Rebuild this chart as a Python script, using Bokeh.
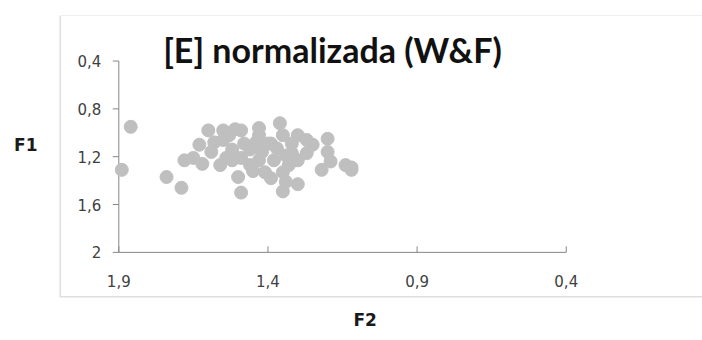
from bokeh.plotting import figure
from bokeh.models import Range1d, FixedTicker, BoxAnnotation, Label, Title
from bokeh.core.properties import value
from bokeh.embed import file_html
from bokeh.resources import INLINE

# F2 (x axis, reversed) and F1 (y axis, reversed)
f2 = [1.86, 1.89, 1.74, 1.69, 1.68, 1.65, 1.62, 1.63, 1.60, 1.55,
      1.51, 1.58, 1.55, 1.56, 1.50, 1.49, 1.48, 1.49, 1.46, 1.43,
      1.36, 1.35, 1.30, 1.25, 1.20, 1.20, 1.19, 1.22, 1.14, 1.12,
      1.27, 1.32, 1.35, 1.39, 1.34, 1.30, 1.35, 1.38, 1.43, 1.37,
      1.44, 1.40, 1.52, 1.46, 1.42, 1.33, 1.30, 1.43, 1.49, 1.53,
      1.41, 1.45, 1.54, 1.27, 1.32, 1.12, 1.52, 1.59, 1.34, 1.39]
f1 = [0.95, 1.31, 1.37, 1.46, 1.23, 1.21, 1.26, 1.10, 0.98, 0.98,
      0.97, 1.08, 1.06, 1.27, 1.37, 1.50, 1.09, 1.21, 1.27, 0.96,
      0.92, 1.02, 1.02, 1.10, 1.05, 1.16, 1.24, 1.31, 1.27, 1.31,
      1.17, 1.17, 1.33, 1.38, 1.41, 1.43, 1.49, 1.23, 1.23, 1.13,
      1.08, 1.09, 1.14, 1.14, 1.16, 1.27, 1.23, 1.02, 0.98, 1.02,
      1.33, 1.32, 1.21, 1.06, 1.09, 1.29, 1.23, 1.16, 1.19, 1.09]

x_ticks = [1.9, 1.4, 0.9, 0.4]
x_tick_labels = ["1,9", "1,4", "0,9", "0,4"]
y_ticks = [0.4, 0.8, 1.2, 1.6, 2.0]
y_tick_labels = ["0,4", "0,8", "1,2", "1,6", "2"]

title_text = "[E] normalizada (W&F)"
x_label = "F2"
y_label = "F1"

AXIS = "#868686"
TICKTXT = "#404040"

W, H = 702, 340
LEFT, TOP, BOTTOM_PAD = 59, 15, 42          # chart-area box in the page
PX_X, PX_Y = 298.3, 120.0                    # pixels per data unit
X0_PX, Y0_PX = 118.3, 60.7                   # page position of x=1.9 / y=0.4

frame_w = W - LEFT
frame_h = H - TOP - BOTTOM_PAD
x_start = x_ticks[0] + (X0_PX - LEFT) / PX_X
x_end = x_start - frame_w / PX_X
y_end = y_ticks[0] - (Y0_PX - TOP) / PX_Y
y_start = y_end + frame_h / PX_Y

p = figure(width=W, height=H, output_backend="svg", toolbar_location=None,
           x_range=Range1d(x_start, x_end), y_range=Range1d(y_start, y_end),
           min_border_left=LEFT, min_border_right=0, min_border_top=TOP,
           min_border_bottom=BOTTOM_PAD)
p.outline_line_color = None
p.grid.visible = False
p.background_fill_color = "white"
p.border_fill_color = "white"

# outer axes are invisible; the left one carries the F1 label
p.xaxis.visible = False
ax = p.yaxis[0]
ax.ticker = FixedTicker(ticks=[])
ax.axis_line_color = None
ax.major_tick_line_color = None
ax.minor_tick_line_color = None
ax.major_label_text_font_size = "0px"
ax.axis_label_text_font = "DejaVu Sans"
ax.axis_label_text_font_style = "bold"
ax.axis_label_text_font_size = "17px"
ax.axis_label_text_color = "#1a1a1a"
ax.axis_label = y_label + "\n"
ax.axis_label_orientation = "horizontal"
ax.axis_label_standoff = 22

p.add_layout(Title(text=x_label, align="left", offset=353 - LEFT, standoff=21,
                   vertical_align="bottom", text_baseline="middle",
                   text_font="DejaVu Sans", text_font_style="bold",
                   text_font_size="17px", text_color="#1a1a1a"), "below")

# chart-area border (right edge falls outside the window)
box = BoxAnnotation(left=0, right=5000, top=frame_h, bottom=0,
                    left_units="screen", right_units="screen",
                    top_units="screen", bottom_units="screen",
                    fill_color=None, line_color="#969696", line_width=3)
p.add_layout(box)

# inner (data) axes
xa, xb = x_ticks[0], x_ticks[-1]
ya, yb = y_ticks[0], y_ticks[-1]
p.segment(x0=[xa], y0=[yb], x1=[xb], y1=[yb], line_color=AXIS, line_width=1)
p.segment(x0=[xa], y0=[ya], x1=[xa], y1=[yb], line_color=AXIS, line_width=1)
tick_x = 6 / PX_X
tick_y = 6 / PX_Y
p.segment(x0=x_ticks, y0=[yb] * len(x_ticks), x1=x_ticks,
          y1=[yb - tick_y] * len(x_ticks), line_color=AXIS, line_width=1)
p.segment(x0=[xa] * len(y_ticks), y0=y_ticks, x1=[xa + tick_x] * len(y_ticks),
          y1=y_ticks, line_color=AXIS, line_width=1)

p.text(x=x_ticks, y=[yb + 29 / PX_Y] * len(x_ticks), text=x_tick_labels,
       text_font=value("DejaVu Sans"), text_font_size="15px",
       text_color=TICKTXT, text_align="center", text_baseline="middle")
p.text(x=[xa + 17.5 / PX_X] * len(y_ticks), y=y_ticks, text=y_tick_labels,
       text_font=value("DejaVu Sans"), text_font_size="15px",
       text_color=TICKTXT, text_align="right", text_baseline="middle")

p.scatter(f2, f1, size=13, color="#BFBFBF", line_color="#BFBFBF")

title = Label(x=332 - LEFT, y=H - BOTTOM_PAD - 50, x_units="screen", y_units="screen",
              text=title_text, text_align="center", text_baseline="middle",
              text_font="Lato", text_font_style="bold", text_font_size="34px",
              text_color="#111111")
p.add_layout(title)

open("out.html", "w").write(file_html(p, INLINE))
